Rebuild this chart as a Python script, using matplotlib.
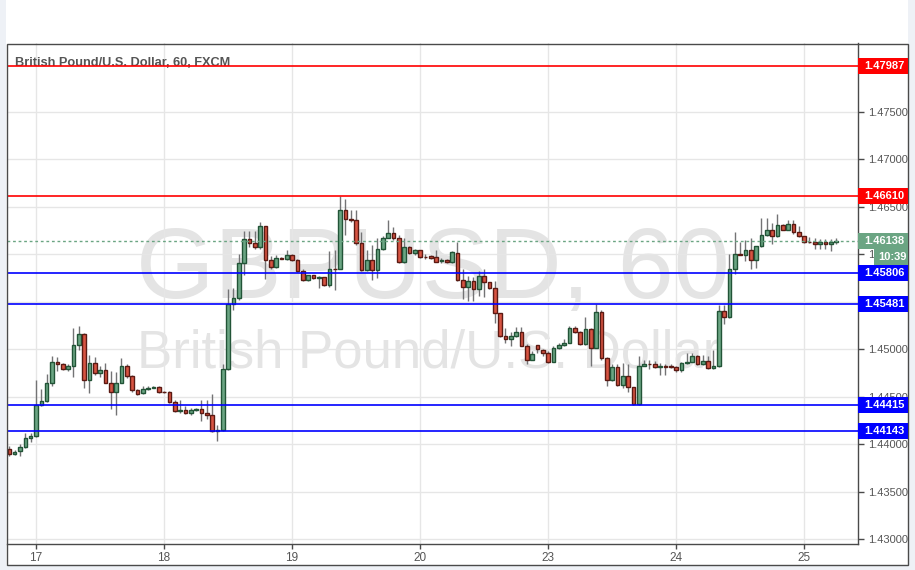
import matplotlib
matplotlib.use("Agg")
import matplotlib.pyplot as plt
from matplotlib.patches import Rectangle
from matplotlib.transforms import IdentityTransform

# GBP/USD hourly candles, first candle is 16th 19:00 (hour -5 from the 17th)
first_hour = -5
opens = [
    1.4395, 1.4390, 1.4393, 1.4397, 1.4407, 1.4409, 1.4441, 1.4446, 1.4464, 1.4487,
    1.4485, 1.4479, 1.4482, 1.4505, 1.4516, 1.4468, 1.4486, 1.4475, 1.4478, 1.4465,
    1.4455, 1.4465, 1.4482, 1.4472, 1.4457, 1.4454, 1.4458, 1.4459, 1.4460, 1.4455,
    1.4455, 1.4444, 1.4435, 1.4436, 1.4433, 1.4436, 1.4437, 1.4433, 1.4431, 1.4414,
    1.4415, 1.4479, 1.4548, 1.4554, 1.4591, 1.4616, 1.4612, 1.4608, 1.4630, 1.4594,
    1.4587, 1.4596, 1.4595, 1.4599, 1.4594, 1.4582, 1.4573, 1.4578, 1.4575, 1.4576,
    1.4568, 1.4585, 1.4584, 1.4647, 1.4637, 1.4636, 1.4612, 1.4583, 1.4594, 1.4583,
    1.4606, 1.4617, 1.4622, 1.4617, 1.4592, 1.4608, 1.4601, 1.4604, 1.4597, 1.4598,
    1.4597, 1.4593, 1.4594, 1.4592, 1.4601, 1.4573, 1.4566, 1.4572, 1.4563, 1.4577,
    1.4571, 1.4564, 1.4538, 1.4514, 1.4511, 1.4514, 1.4518, 1.4503, 1.4489, 1.4504,
    1.4499, 1.4496, 1.4487, 1.4501, 1.4504, 1.4507, 1.4522, 1.4518, 1.4506, 1.4521,
    1.4501, 1.4539, 1.4491, 1.4468, 1.4481, 1.4462, 1.4472, 1.4460, 1.4442, 1.4482,
    1.4485, 1.4484, 1.4481, 1.4482, 1.4482, 1.4481, 1.4478, 1.4486, 1.4487, 1.4493,
    1.4484, 1.4488, 1.4480, 1.4482, 1.4540, 1.4534, 1.4585, 1.4600, 1.4599, 1.4604,
    1.4594, 1.4609, 1.4620, 1.4626, 1.4619, 1.4631, 1.4626, 1.4632, 1.4623, 1.4619,
    1.4613, 1.4613, 1.4611, 1.4613, 1.4611, 1.4613,
]
highs = [
    1.4398, 1.4394, 1.4400, 1.4412, 1.4412, 1.4468, 1.4458, 1.4474, 1.4493, 1.4492,
    1.4486, 1.4485, 1.4522, 1.4524, 1.4517, 1.4494, 1.4492, 1.4482, 1.4486, 1.4477,
    1.4476, 1.4491, 1.4485, 1.4473, 1.4458, 1.4461, 1.4461, 1.4461, 1.4461, 1.4456,
    1.4456, 1.4447, 1.4447, 1.4440, 1.4438, 1.4438, 1.4447, 1.4447, 1.4453, 1.4420,
    1.4484, 1.4563, 1.4564, 1.4600, 1.4624, 1.4624, 1.4624, 1.4634, 1.4630, 1.4598,
    1.4599, 1.4597, 1.4604, 1.4600, 1.4595, 1.4584, 1.4578, 1.4578, 1.4577, 1.4576,
    1.4603, 1.4605, 1.4661, 1.4658, 1.4647, 1.4647, 1.4623, 1.4605, 1.4610, 1.4617,
    1.4619, 1.4636, 1.4629, 1.4620, 1.4617, 1.4609, 1.4606, 1.4605, 1.4600, 1.4599,
    1.4605, 1.4596, 1.4595, 1.4603, 1.4613, 1.4584, 1.4577, 1.4576, 1.4582, 1.4585,
    1.4571, 1.4572, 1.4538, 1.4522, 1.4518, 1.4523, 1.4523, 1.4506, 1.4498, 1.4504,
    1.4500, 1.4498, 1.4503, 1.4507, 1.4511, 1.4525, 1.4524, 1.4519, 1.4534, 1.4522,
    1.4548, 1.4541, 1.4492, 1.4485, 1.4485, 1.4486, 1.4484, 1.4460, 1.4493, 1.4489,
    1.4489, 1.4488, 1.4486, 1.4484, 1.4484, 1.4482, 1.4487, 1.4496, 1.4496, 1.4494,
    1.4494, 1.4493, 1.4499, 1.4547, 1.4547, 1.4600, 1.4623, 1.4613, 1.4615, 1.4617,
    1.4609, 1.4638, 1.4638, 1.4633, 1.4642, 1.4632, 1.4636, 1.4636, 1.4630, 1.4619,
    1.4618, 1.4617, 1.4616, 1.4616, 1.4616, 1.4617,
]
lows = [
    1.4388, 1.4389, 1.4388, 1.4396, 1.4402, 1.4408, 1.4440, 1.4445, 1.4461, 1.4477,
    1.4478, 1.4477, 1.4471, 1.4499, 1.4459, 1.4454, 1.4473, 1.4471, 1.4464, 1.4437,
    1.4431, 1.4464, 1.4470, 1.4455, 1.4452, 1.4453, 1.4457, 1.4459, 1.4454, 1.4454,
    1.4443, 1.4434, 1.4433, 1.4432, 1.4431, 1.4435, 1.4424, 1.4427, 1.4413, 1.4403,
    1.4414, 1.4478, 1.4541, 1.4552, 1.4578, 1.4608, 1.4606, 1.4606, 1.4574, 1.4584,
    1.4586, 1.4595, 1.4594, 1.4593, 1.4581, 1.4572, 1.4572, 1.4574, 1.4564, 1.4567,
    1.4566, 1.4562, 1.4584, 1.4620, 1.4634, 1.4610, 1.4582, 1.4582, 1.4573, 1.4575,
    1.4605, 1.4617, 1.4615, 1.4591, 1.4591, 1.4600, 1.4599, 1.4596, 1.4595, 1.4595,
    1.4592, 1.4591, 1.4591, 1.4591, 1.4572, 1.4553, 1.4551, 1.4551, 1.4556, 1.4555,
    1.4563, 1.4528, 1.4513, 1.4507, 1.4503, 1.4513, 1.4503, 1.4485, 1.4489, 1.4496,
    1.4493, 1.4486, 1.4487, 1.4500, 1.4503, 1.4507, 1.4517, 1.4505, 1.4505, 1.4482,
    1.4501, 1.4489, 1.4461, 1.4467, 1.4461, 1.4459, 1.4455, 1.44415, 1.44415, 1.4482,
    1.4479, 1.4480, 1.4473, 1.4473, 1.4480, 1.4476, 1.4476, 1.4485, 1.4487, 1.4483,
    1.4483, 1.4479, 1.4479, 1.4481, 1.4527, 1.4533, 1.4579, 1.4599, 1.4593, 1.4585,
    1.4586, 1.4608, 1.4619, 1.4611, 1.4618, 1.4626, 1.4626, 1.4621, 1.4618, 1.4612,
    1.4612, 1.4606, 1.4606, 1.4606, 1.4603, 1.4611,
]
closes = [
    1.4390, 1.4392, 1.4397, 1.4407, 1.4409, 1.4441, 1.4446, 1.4464, 1.4487, 1.4485,
    1.4479, 1.4482, 1.4505, 1.4516, 1.4468, 1.4486, 1.4475, 1.4478, 1.4465, 1.4455,
    1.4465, 1.4482, 1.4472, 1.4457, 1.4453, 1.4458, 1.4459, 1.4460, 1.4455, 1.44548,
    1.4444, 1.4435, 1.4436, 1.4433, 1.4436, 1.4437, 1.4433, 1.4431, 1.4414, 1.4415,
    1.4479, 1.4548, 1.4554, 1.4591, 1.4616, 1.4612, 1.4608, 1.4630, 1.4594, 1.4587,
    1.4596, 1.4595, 1.4599, 1.4594, 1.4582, 1.4573, 1.4578, 1.4575, 1.4576, 1.4568,
    1.4585, 1.4584, 1.4647, 1.4637, 1.4636, 1.4612, 1.4583, 1.4594, 1.4583, 1.4606,
    1.4617, 1.4622, 1.4617, 1.4592, 1.4608, 1.4601, 1.4604, 1.4597, 1.45968, 1.4596,
    1.4592, 1.4594, 1.4592, 1.4602, 1.4573, 1.4566, 1.4572, 1.4563, 1.4577, 1.4571,
    1.4564, 1.4538, 1.4514, 1.4511, 1.4514, 1.4518, 1.4503, 1.4489, 1.4495, 1.4500,
    1.4496, 1.4487, 1.4501, 1.4504, 1.4507, 1.4522, 1.4518, 1.4506, 1.4521, 1.4501,
    1.4539, 1.4491, 1.4468, 1.4481, 1.4462, 1.4472, 1.4460, 1.4442, 1.4482, 1.4485,
    1.4484, 1.4481, 1.4482, 1.4481, 1.4481, 1.4478, 1.4486, 1.4487, 1.4493, 1.4484,
    1.4488, 1.4480, 1.4482, 1.4540, 1.4534, 1.4585, 1.4600, 1.4599, 1.4604, 1.4594,
    1.4609, 1.4620, 1.4626, 1.4619, 1.4631, 1.4626, 1.4632, 1.4623, 1.4619, 1.4613,
    1.46128, 1.4611, 1.4613, 1.4611, 1.4613, 1.46138,
]

day_hours = [0, 24, 48, 72, 96, 120, 144]
day_labels = ["17", "18", "19", "20", "23", "24", "25"]
price_ticks = [1.430, 1.435, 1.440, 1.445, 1.450, 1.455, 1.460, 1.465, 1.470, 1.475]
# 1.45500 sits fully under the 1.45481 marker, so its text is not shown
hidden_ticks = [1.455]

red_levels = [1.47987, 1.46610]
blue_levels = [1.45806, 1.45481, 1.44415, 1.44143]
last_price = 1.46138
countdown = "10:39"

title = "British Pound/U.S. Dollar, 60, FXCM"
wm_symbol = "GBPUSD, 60"
wm_name = "British Pound/U.S. Dollar"

UP, DOWN = "#6ba583", "#d75442"
UP_EDGE, DOWN_EDGE = "#225437", "#5b1a13"
WICK = "#737375"
AXIS = "#4a4a4a"
TXT = "#555555"

W, H = 915, 570
fig = plt.figure(figsize=(W / 100, H / 100), dpi=100, facecolor="#eef1f6")
plt.rcParams["font.family"] = ["Liberation Sans", "DejaVu Sans"]


def fx(x):
    return x / W


def fy(y):
    return 1 - y / H


# white chart panel with its border
fig.patches.append(Rectangle((fx(6), fy(565)), fx(908) - fx(6), fy(0) - fy(565),
                             transform=fig.transFigure, facecolor="white",
                             edgecolor="none", zorder=-2))
fig.patches.append(Rectangle((fx(6.5), fy(564.5)), fx(907.5) - fx(6.5), fy(43.5) - fy(564.5),
                             transform=fig.transFigure, fill=False,
                             edgecolor=AXIS, lw=1, zorder=4))

ax = fig.add_axes([fx(7), fy(544), fx(858) - fx(7), fy(43) - fy(544)])
ax.set_facecolor("white")
ax.set_xlim(-5.44, 154.1)
ax.set_ylim(1.4295, 1.48224)

for s in ["left", "top"]:
    ax.spines[s].set_visible(False)
for s in ["right", "bottom"]:
    ax.spines[s].set_color(AXIS)
    ax.spines[s].set_linewidth(1)

ax.set_axisbelow(True)
ax.grid(color="#e6e6e6", lw=1)
ax.yaxis.tick_right()
ax.set_yticks(price_ticks, ["" if p in hidden_ticks else f"{p:.5f}" for p in price_ticks])
ax.set_xticks(day_hours, day_labels)
ax.tick_params(axis="y", length=4, width=1, color=AXIS, labelsize=8,
               labelcolor=TXT, pad=3)
ax.tick_params(axis="x", length=3.5, width=1, color=AXIS, labelsize=8.5,
               labelcolor=TXT, pad=2)

# watermark
ax.text(fx(433), fy(298), wm_symbol, transform=fig.transFigure, ha="center",
        va="baseline", fontsize=72.5, color="#e4e4e4", zorder=0.1)
ax.text(fx(429), fy(367), wm_name, transform=fig.transFigure, ha="center",
        va="baseline", fontsize=38, color="#e4e4e4", zorder=0.1)

# candles
bw = 0.68
for i, (o, h, l, c) in enumerate(zip(opens, highs, lows, closes)):
    x = first_hour + i
    up = c >= o
    ax.vlines(x, l, h, color=WICK, lw=1, zorder=2)
    bottom = min(o, c)
    height = max(abs(c - o), 0.00003)
    ax.add_patch(Rectangle((x - bw / 2, bottom), bw, height,
                           facecolor=UP if up else DOWN,
                           edgecolor=UP_EDGE if up else DOWN_EDGE,
                           lw=1, zorder=3))

# horizontal levels
for lv in red_levels:
    ax.axhline(lv, color="#ff0000", lw=1.2, zorder=4)
for lv in blue_levels:
    ax.axhline(lv, color="#0000ff", lw=1.2, zorder=4)
ax.axhline(last_price, color=UP, lw=1, ls=(0, (2, 2)), zorder=4)

ax.text(fx(15.5), fy(66), title, transform=fig.transFigure, va="baseline",
        fontsize=9.2, fontweight="bold", color=TXT, zorder=3.5)

# price labels on the right scale
ident = IdentityTransform()


def price_box(price, color, text, x0=858, width=50, dy=0):
    yd = ax.transData.transform((0, price))[1] - dy
    fig.patches.append(Rectangle((x0, yd - 8), width, 16, transform=ident,
                                 facecolor=color, edgecolor="none", zorder=5))
    fig.text(x0 + width / 2 + 1, yd, text, transform=ident, ha="center",
             va="center", fontsize=8, fontweight="bold", color="white", zorder=6)


for lv in red_levels:
    price_box(lv, "#ff0000", f"{lv:.5f}")
for lv in blue_levels:
    price_box(lv, "#0000ff", f"{lv:.5f}")
price_box(last_price, UP, f"{last_price:.5f}")
price_box(last_price, UP, countdown, x0=874, width=34, dy=16)

fig.savefig("out.png", dpi=100, facecolor=fig.get_facecolor())
